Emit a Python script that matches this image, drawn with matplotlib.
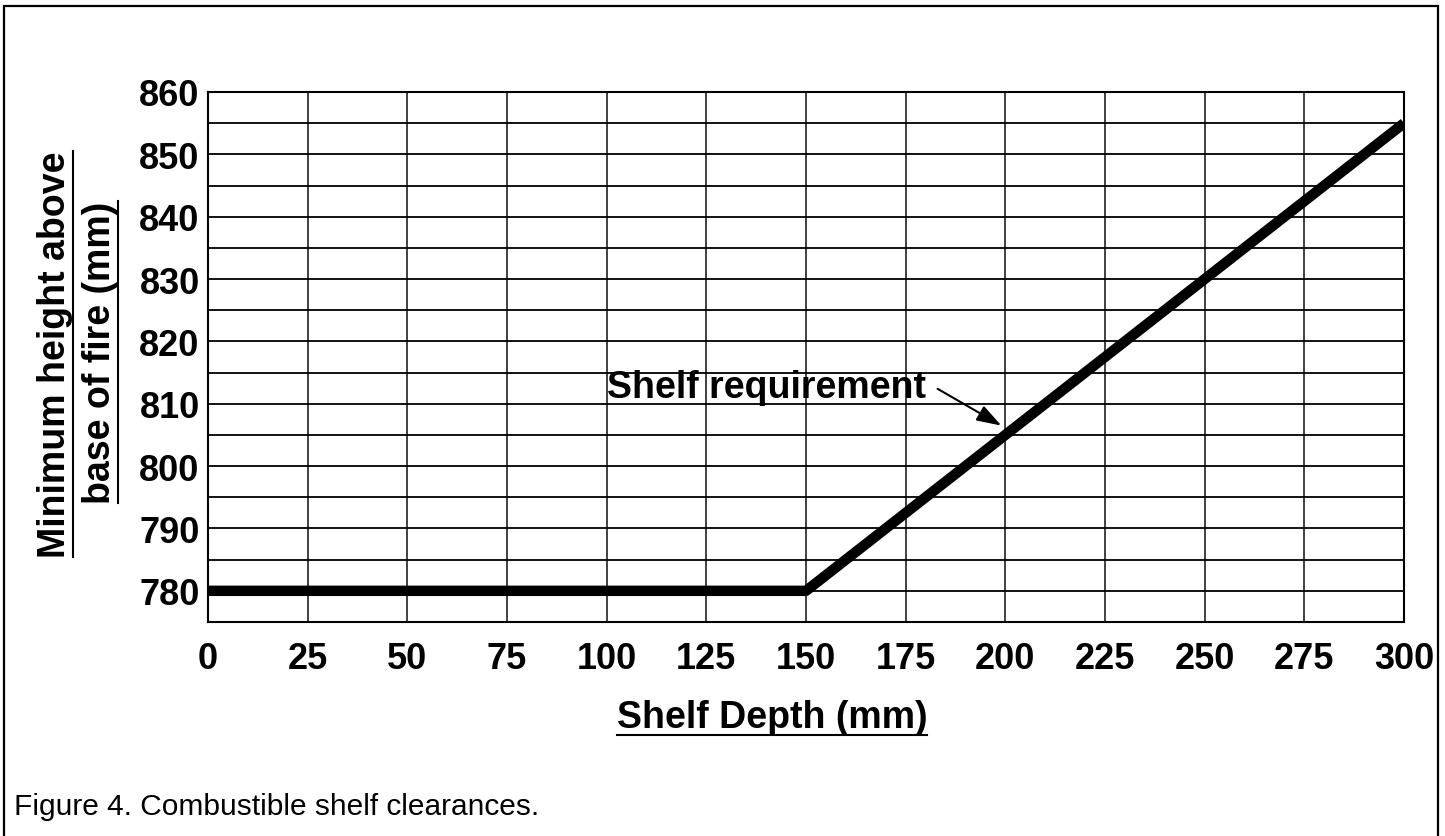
import matplotlib
matplotlib.use("Agg")
import matplotlib.pyplot as plt
from matplotlib import font_manager
from matplotlib.lines import Line2D
from matplotlib.patches import Rectangle

# data
depth = [0, 150, 300]
height = [780, 780, 855]
x_ticks = [0, 25, 50, 75, 100, 125, 150, 175, 200, 225, 250, 275, 300]
y_ticks = [780, 790, 800, 810, 820, 830, 840, 850, 860]
y_minor = [775, 785, 795, 805, 815, 825, 835, 845, 855]

names = {f.name for f in font_manager.fontManager.ttflist}
main_font = "Liberation Sans" if "Liberation Sans" in names else "DejaVu Sans"
plt.rcParams["font.family"] = main_font

W, H = 1445, 837
fig = plt.figure(figsize=(W / 100, H / 100), dpi=100)
ax = fig.add_axes([208 / W, 1 - 623 / H, (1404 - 208) / W, (623 - 93) / H])

ax.plot(depth, height, color="black", lw=7.5, solid_capstyle="butt", zorder=3)

ax.set_xlim(0, 300)
ax.set_ylim(775, 860)
ax.set_xticks(x_ticks)
ax.set_yticks(y_ticks)
ax.set_yticks(y_minor, minor=True)
ax.grid(True, which="major", axis="x", color="#333333", lw=1.3)
ax.grid(True, which="both", axis="y", color="black", lw=1.3)
ax.tick_params(which="both", length=0)
ax.tick_params(axis="x", pad=14, labelsize=26)
ax.tick_params(axis="y", pad=6, labelsize=26)
for lab in ax.get_xticklabels() + ax.get_yticklabels():
    lab.set_fontweight("bold")
for sp in ax.spines.values():
    sp.set_linewidth(1.5)

# callout
ax.text(100, 812.7, "Shelf requirement", ha="left", va="center",
        fontsize=27, fontweight="bold")
ax.annotate("", xy=(199, 806.5), xytext=(183, 812.4),
            arrowprops=dict(arrowstyle="-|>,head_length=0.75,head_width=0.25",
                            mutation_scale=20, color="black", lw=1.5,
                            shrinkA=0, shrinkB=0))

# axis titles, underlined
titles = []
titles.append(fig.text(772 / W, 1 - 718 / H, "Shelf Depth (mm)", ha="center",
                       va="center", fontsize=27, fontweight="bold"))
titles.append(fig.text(55 / W, 1 - 355 / H, "Minimum height above", ha="center",
                       va="center", rotation=90, fontsize=27, fontweight="bold"))
titles.append(fig.text(100 / W, 1 - 353 / H, "base of fire (mm)", ha="center",
                       va="center", rotation=90, fontsize=27, fontweight="bold"))

fig.text(14 / W, 1 - 807 / H, "Figure 4. Combustible shelf clearances.",
         ha="left", va="center", fontsize=21.5)

fig.canvas.draw()
r = fig.canvas.get_renderer()
for t in titles:
    bb = t.get_window_extent(r)
    if t.get_rotation() == 90:
        xs = [bb.x1 / W, bb.x1 / W]
        ys = [bb.y0 / H, bb.y1 / H]
    else:
        xs = [bb.x0 / W, bb.x1 / W]
        ys = [bb.y0 / H, bb.y0 / H]
    fig.add_artist(Line2D(xs, ys, color="black", lw=1.5, transform=fig.transFigure))

fig.add_artist(Rectangle((4 / W, -0.02), 1434 / W, 1.02 - 7 / H, fill=False,
                         edgecolor="black", lw=1.6, transform=fig.transFigure))

fig.savefig("out.png", dpi=100)
